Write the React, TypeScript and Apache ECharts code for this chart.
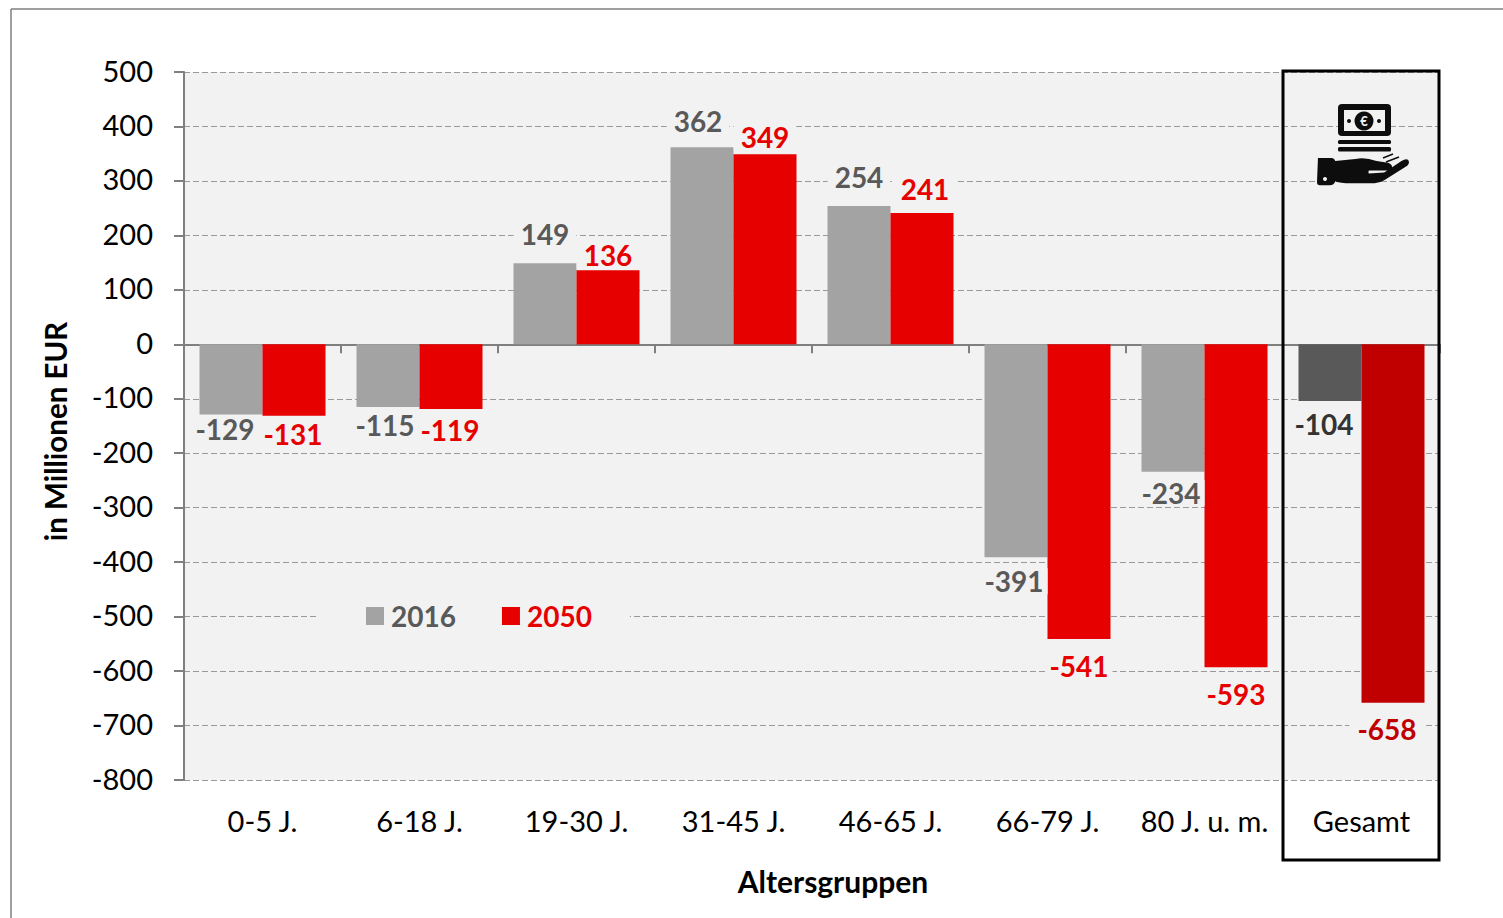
import React, { useEffect, useRef } from "react";
import * as echarts from "echarts";

const categories = ["0-5 J.", "6-18 J.", "19-30 J.", "31-45 J.", "46-65 J.", "66-79 J.", "80 J. u. m.", "Gesamt"];
const values2016 = [-129, -115, 149, 362, 254, -391, -234, -104];
const values2050 = [-131, -119, 136, 349, 241, -541, -593, -658];
const seriesNames = ["2016", "2050"];
const xAxisTitle = "Altersgruppen";
const yAxisTitle = "in Millionen EUR";

// Hand-placed nudges of the value labels, as in the reference.
const labelNudge2016 = [[-6, -7], [-3, -3], [0, -8], [-4, -5], [0, -8], [-2, 3], [-2, 0], [-6, 2]];
const labelNudge2050 = [[-1, -3], [-1, 0], [0, 6], [0, 4], [3, -3], [0, 6], [0, 6], [-6, 5]];

const FONT = "Lato, Carlito, Calibri, sans-serif";
const PANEL = "#f2f2f2";
const GREY = "#a3a3a3";
const RED = "#e60000";
const GREY_TEXT = "#595959";
const DARK_GREY = "#595959";
const DARK_RED = "#c00000";
const ICON = "#0d0d0d";

const hand =
  "M1 0 L15 0 Q18 0 19 3 L40 1 Q50 -1 62 3 L74 5 Q79 7 78 10 Q77 13 72 13 L54 13 Q53 15 54 16 L70 15 L88 3 Q93 0 95 2 Q97 5 94 8 L70 23 Q65 26 60 26 L30 26 Q20 25 19 24 Q18 28 13 28 L3 28 Q0 28 0 25 Z";

function makeData(values: number[], nudges: number[][], lastColor: string, lastText: string) {
  return values.map((value, i) => {
    const offset = nudges[i];
    const last = i === values.length - 1;
    const pad = value > 0 ? 7 : last && value < -300 ? 8 : 4;
    const padding = [0, pad, 0, pad];
    return last
      ? { value, itemStyle: { color: lastColor }, label: { color: lastText, offset, padding } }
      : { value, label: { offset, padding } };
  });
}

export default function App() {
  const ref = useRef<HTMLDivElement>(null);
  useEffect(() => {
    echarts.graphic.registerShape("payHand", echarts.graphic.extendPath(hand, {}) as any);
    const chart = echarts.init(ref.current!, undefined, { renderer: "svg" });
    const labelBase = {
      show: true,
      position: "outside" as const,
      fontFamily: FONT,
      fontWeight: "bold" as const,
      fontSize: 28,
      lineHeight: 26,
      distance: 8,
      backgroundColor: PANEL,
    };
    const icon = (extra: any) => ({ silent: true, z: 21, ...extra });
    chart.setOption({
      animation: false,
      backgroundColor: "#fff",
      textStyle: { fontFamily: FONT },
      grid: {
        left: 184,
        right: 63,
        top: 72,
        bottom: 138,
        show: true,
        backgroundColor: PANEL,
        borderWidth: 0,
      },
      legend: {
        show: true,
        left: 316,
        top: 599,
        padding: [3, 38, 3, 50],
        itemWidth: 18,
        itemHeight: 18,
        itemGap: 46,
        icon: "rect",
        backgroundColor: PANEL,
        data: [
          { name: seriesNames[0], textStyle: { color: GREY_TEXT } },
          { name: seriesNames[1], textStyle: { color: RED } },
        ],
        textStyle: { fontFamily: FONT, fontWeight: "bold", fontSize: 28, padding: [0, 0, 0, 2] },
        selectedMode: false,
      },
      xAxis: {
        type: "category",
        data: categories,
        name: xAxisTitle,
        nameLocation: "middle",
        nameGap: 86,
        nameTextStyle: { fontFamily: FONT, fontWeight: "bold", fontSize: 30, color: "#000", padding: [0, 0, 0, 42] },
        axisLine: { onZero: true, lineStyle: { color: "#7f7f7f", width: 2 } },
        axisTick: { show: true, length: 9, lineStyle: { color: "#7f7f7f", width: 2 } },
        axisLabel: {
          position: "bottom",
          fontFamily: FONT,
          fontSize: 29,
          color: "#000",
          interval: 0,
          margin: 26,
        },
      },
      yAxis: {
        type: "value",
        min: -800,
        max: 500,
        interval: 100,
        name: yAxisTitle,
        nameLocation: "middle",
        nameGap: 114,
        nameTextStyle: { fontFamily: FONT, fontWeight: "bold", fontSize: 29.5, color: "#000", padding: [0, 11, 0, 0] },
        axisLine: { show: true, lineStyle: { color: "#7f7f7f", width: 2 } },
        axisTick: { show: true, length: 10, lineStyle: { color: "#7f7f7f", width: 2 } },
        axisLabel: { fontFamily: FONT, fontSize: 29, color: "#000", margin: 31, lineHeight: 4, verticalAlign: "bottom" },
        splitLine: { show: true, lineStyle: { color: "#999", type: [6, 3], width: 1 } },
      },
      series: [
        {
          name: seriesNames[0],
          type: "bar",
          barWidth: 63,
          barGap: 0,
          itemStyle: { color: GREY },
          label: { ...labelBase, color: GREY_TEXT },
          data: makeData(values2016, labelNudge2016, DARK_GREY, "#333333"),
        },
        {
          name: seriesNames[1],
          type: "bar",
          barWidth: 63,
          barGap: 0,
          itemStyle: { color: RED },
          label: { ...labelBase, color: RED },
          data: makeData(values2050, labelNudge2050, DARK_RED, DARK_RED),
        },
      ],
      graphic: [
        { type: "line", silent: true, shape: { x1: 11, y1: 9, x2: 1503, y2: 9 }, style: { stroke: "#7f7f7f", lineWidth: 1.5 } },
        { type: "line", silent: true, shape: { x1: 11, y1: 9, x2: 11, y2: 918 }, style: { stroke: "#7f7f7f", lineWidth: 1.5 } },
        { type: "rect", silent: true, z: 20, shape: { x: 1283, y: 71, width: 156, height: 789 }, style: { fill: "none", stroke: "#000", lineWidth: 3 } },
        icon({ type: "rect", shape: { x: 1338, y: 104, width: 53, height: 32, r: 4 }, style: { fill: ICON } }),
        icon({ type: "rect", z: 22, shape: { x: 1344, y: 110, width: 41, height: 21 }, style: { fill: PANEL } }),
        icon({ type: "circle", z: 23, shape: { cx: 1364, cy: 121, r: 9.5 }, style: { fill: ICON } }),
        icon({ type: "text", z: 24, x: 1364, y: 121, style: { text: "€", fill: PANEL, fontSize: 13, fontWeight: "bold", fontFamily: FONT, align: "center", verticalAlign: "middle" } }),
        icon({ type: "circle", z: 23, shape: { cx: 1349, cy: 121, r: 2 }, style: { fill: ICON } }),
        icon({ type: "circle", z: 23, shape: { cx: 1379, cy: 121, r: 2 }, style: { fill: ICON } }),
        icon({ type: "rect", shape: { x: 1338, y: 140, width: 53, height: 4, r: 1.5 }, style: { fill: ICON } }),
        icon({ type: "rect", shape: { x: 1338, y: 147, width: 53, height: 4.5, r: 1.5 }, style: { fill: ICON } }),
        icon({ type: "payHand", x: 1317, y: 158, scaleX: 0.96, scaleY: 0.97, style: { fill: ICON } }),
        icon({ type: "circle", z: 22, shape: { cx: 1325, cy: 179, r: 2 }, style: { fill: PANEL } }),
        icon({ type: "line", shape: { x1: 1383, y1: 158, x2: 1393, y2: 154 }, style: { stroke: ICON, lineWidth: 1.5 } }),
        icon({ type: "line", shape: { x1: 1386, y1: 162, x2: 1399, y2: 157 }, style: { stroke: ICON, lineWidth: 1.5 } }),
      ],
    });
    return () => chart.dispose();
  }, []);
  return <div ref={ref} style={{ position: "absolute", left: 0, top: 0, width: 1503, height: 918 }} />;
}
